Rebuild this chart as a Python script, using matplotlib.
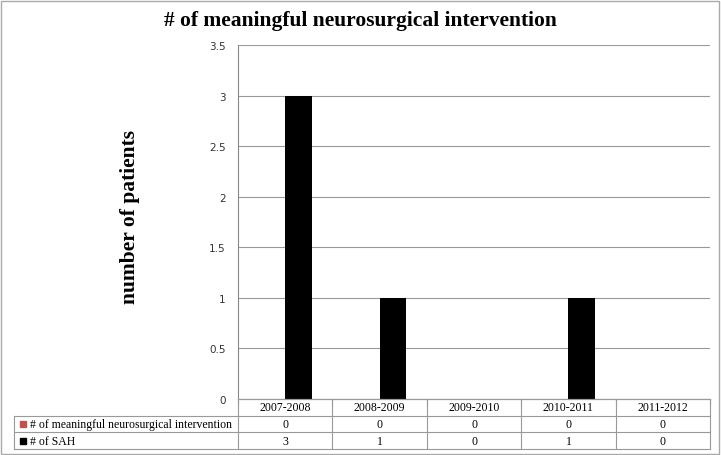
import matplotlib.pyplot as plt
from matplotlib.patches import Rectangle

years = ["2007-2008", "2008-2009", "2009-2010", "2010-2011", "2011-2012"]
series_names = ["# of meaningful neurosurgical intervention", "# of SAH"]
intervention = [0, 0, 0, 0, 0]
sah = [3, 1, 0, 1, 0]
colors = ["#C0504D", "#000000"]

W, H = 721, 456
fig = plt.figure(figsize=(W / 100, H / 100), dpi=100)

def px_axes(x0, y0, x1, y1):
    return fig.add_axes([x0 / W, 1 - y1 / H, (x1 - x0) / W, (y1 - y0) / H])

serif = ["Liberation Serif", "DejaVu Serif"]

# main plot
ax = px_axes(238, 46, 710, 400)
x = list(range(len(years)))
bw = 0.28
ax.bar([i - bw / 2 for i in x], intervention, bw, color=colors[0])
ax.bar([i + bw / 2 for i in x], sah, bw, color=colors[1])
ax.set_xlim(-0.5, len(years) - 0.5)
ax.set_ylim(0, 3.5)
ax.set_yticks([0, 0.5, 1, 1.5, 2, 2.5, 3, 3.5])
ax.set_yticklabels(["0", "0.5", "1", "1.5", "2", "2.5", "3", "3.5"],
                   fontsize=7.5, color="#333333")
ax.tick_params(axis="y", length=0, pad=9)
ax.set_xticks([i - 0.5 for i in range(len(years) + 1)])
ax.set_xticklabels([])
ax.tick_params(axis="x", length=4, color="#888888", direction="out")
ax.grid(axis="y", color="#999999", linewidth=0.8)
ax.set_axisbelow(True)
for s in ["top", "right"]:
    ax.spines[s].set_visible(False)
ax.spines["left"].set_color("#888888")
ax.spines["bottom"].set_color("#888888")

fig.text(130 / W, 1 - 217 / H, "number of patients", rotation=90,
         ha="center", va="center", fontsize=15.5, fontweight="bold", family=serif)
fig.text(360 / W, 1 - 21 / H, "# of meaningful neurosurgical intervention",
         ha="center", va="center", fontsize=15.5, fontweight="bold", family=serif)

# data table
lab_units = (238 - 14) / ((710 - 238) / len(years))
tx = px_axes(14, 400, 710, 450)
tx.set_xlim(-0.5 - lab_units, len(years) - 0.5)
tx.set_ylim(3, 0)
tx.axis("off")
gc = "#999999"
for r in [0, 1, 2, 3]:
    x0 = -0.5 if r == 0 else -0.5 - lab_units
    tx.plot([x0, len(years) - 0.5], [r, r], color=gc, lw=0.8, clip_on=False)
tx.plot([-0.5 - lab_units] * 2, [1, 3], color=gc, lw=0.8, clip_on=False)
for i in range(len(years) + 1):
    tx.plot([i - 0.5] * 2, [0, 3], color=gc, lw=0.8, clip_on=False)
for i, yr in enumerate(years):
    tx.text(i, 0.5, yr, ha="center", va="center", fontsize=8.5, family=serif)
    tx.text(i, 1.5, str(intervention[i]), ha="center", va="center", fontsize=8.5, family=serif)
    tx.text(i, 2.5, str(sah[i]), ha="center", va="center", fontsize=8.5, family=serif)
for r, (name, c) in enumerate(zip(series_names, colors)):
    tx.add_patch(Rectangle((-0.5 - lab_units + 0.06, r + 1.33), 0.065, 0.34,
                           color=c, clip_on=False))
    tx.text(-0.5 - lab_units + 0.17, r + 1.5, name, ha="left", va="center",
            fontsize=8.5, family=serif)

# outer border
fig.patches.append(Rectangle((1 / W, 1 / H), 1 - 3 / W, 1 - 3 / H,
                             transform=fig.transFigure, fill=False,
                             edgecolor="#AAAAAA", lw=1))

fig.savefig("out.png", dpi=100)
